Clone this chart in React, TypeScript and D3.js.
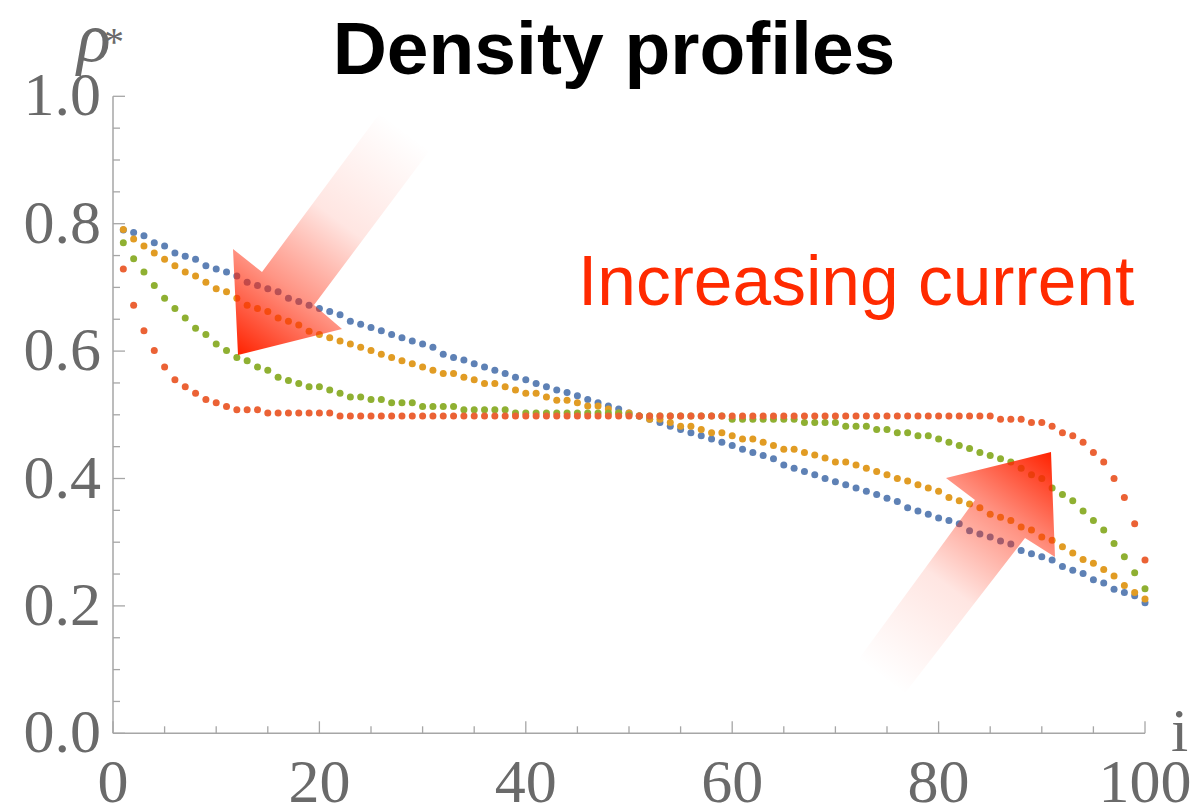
import React from "react";
import * as d3 from "d3";

const W = 1200;
const H = 809;

const seriesColors = ["#5E81B5", "#E19C24", "#8FB032", "#EB6235"];

const blue = [
  0.790, 0.786, 0.781, 0.770, 0.765, 0.754, 0.749, 0.744, 0.734, 0.729,
  0.724, 0.718, 0.708, 0.703, 0.698, 0.693, 0.683, 0.678, 0.672, 0.667,
  0.662, 0.657, 0.647, 0.642, 0.637, 0.632, 0.626, 0.621, 0.616, 0.611,
  0.606, 0.595, 0.590, 0.586, 0.580, 0.575, 0.570, 0.565, 0.559, 0.555,
  0.549, 0.544, 0.539, 0.535, 0.530, 0.524, 0.519, 0.514, 0.509, 0.503,
  0.498, 0.493, 0.488, 0.482, 0.477, 0.472, 0.467, 0.462, 0.457, 0.452,
  0.446, 0.441, 0.436, 0.431, 0.421, 0.416, 0.411, 0.406, 0.400, 0.395,
  0.390, 0.385, 0.380, 0.375, 0.369, 0.364, 0.354, 0.349, 0.344, 0.338,
  0.334, 0.329, 0.318, 0.313, 0.308, 0.302, 0.297, 0.287, 0.282, 0.277,
  0.272, 0.262, 0.256, 0.251, 0.241, 0.236, 0.226, 0.221, 0.216, 0.205,
];

const orange = [
  0.791, 0.776, 0.765, 0.754, 0.744, 0.734, 0.724, 0.718, 0.708, 0.698,
  0.693, 0.683, 0.672, 0.667, 0.662, 0.652, 0.647, 0.641, 0.631, 0.626,
  0.621, 0.616, 0.611, 0.606, 0.601, 0.595, 0.590, 0.585, 0.580, 0.575,
  0.570, 0.565, 0.565, 0.559, 0.555, 0.549, 0.549, 0.544, 0.539, 0.534,
  0.534, 0.528, 0.523, 0.523, 0.519, 0.514, 0.514, 0.509, 0.503, 0.503,
  0.498, 0.493, 0.493, 0.488, 0.482, 0.482, 0.477, 0.472, 0.472, 0.467,
  0.462, 0.462, 0.457, 0.452, 0.446, 0.446, 0.441, 0.437, 0.432, 0.426,
  0.426, 0.421, 0.416, 0.411, 0.406, 0.400, 0.396, 0.390, 0.385, 0.380,
  0.370, 0.365, 0.360, 0.354, 0.344, 0.339, 0.334, 0.324, 0.319, 0.308,
  0.303, 0.293, 0.283, 0.273, 0.267, 0.257, 0.247, 0.232, 0.221, 0.211,
];

const green = [
  0.770, 0.745, 0.724, 0.703, 0.683, 0.667, 0.652, 0.636, 0.626, 0.611,
  0.601, 0.590, 0.585, 0.575, 0.570, 0.559, 0.554, 0.549, 0.544, 0.544,
  0.539, 0.534, 0.528, 0.528, 0.524, 0.524, 0.519, 0.519, 0.519, 0.513,
  0.513, 0.513, 0.513, 0.508, 0.508, 0.508, 0.508, 0.508, 0.503, 0.503,
  0.503, 0.503, 0.503, 0.503, 0.503, 0.503, 0.503, 0.503, 0.503, 0.500,
  0.498, 0.498, 0.498, 0.498, 0.498, 0.498, 0.498, 0.498, 0.498, 0.493,
  0.493, 0.493, 0.493, 0.493, 0.493, 0.493, 0.488, 0.488, 0.488, 0.488,
  0.482, 0.482, 0.482, 0.477, 0.477, 0.472, 0.472, 0.467, 0.467, 0.462,
  0.457, 0.452, 0.447, 0.441, 0.436, 0.431, 0.426, 0.416, 0.406, 0.400,
  0.385, 0.375, 0.365, 0.349, 0.334, 0.319, 0.298, 0.277, 0.252, 0.227,
];

const red = [
  0.729, 0.672, 0.632, 0.601, 0.575, 0.555, 0.544, 0.534, 0.524, 0.519,
  0.513, 0.508, 0.508, 0.508, 0.503, 0.503, 0.503, 0.503, 0.503, 0.503,
  0.503, 0.498, 0.498, 0.498, 0.498, 0.498, 0.498, 0.498, 0.498, 0.498,
  0.498, 0.498, 0.498, 0.498, 0.498, 0.498, 0.498, 0.498, 0.498, 0.498,
  0.498, 0.498, 0.498, 0.498, 0.498, 0.498, 0.498, 0.498, 0.498, 0.498,
  0.498, 0.498, 0.498, 0.498, 0.498, 0.498, 0.498, 0.498, 0.498, 0.498,
  0.498, 0.498, 0.498, 0.498, 0.498, 0.498, 0.498, 0.498, 0.498, 0.498,
  0.498, 0.498, 0.498, 0.498, 0.498, 0.498, 0.498, 0.498, 0.498, 0.498,
  0.498, 0.498, 0.498, 0.498, 0.498, 0.493, 0.493, 0.493, 0.488, 0.488,
  0.482, 0.472, 0.467, 0.457, 0.441, 0.426, 0.400, 0.370, 0.329, 0.272,
];

const series = [blue, orange, green, red];

const xMajorTicks = [0, 20, 40, 60, 80, 100];
const yMajorTicks = [0, 0.2, 0.4, 0.6, 0.8, 1.0];
const titleText = "Density profiles";
const annotationText = "Increasing current";

// annotation arrows in pixel space: [tail-left, tail-right, shaft-right, head-right, tip, head-left, shaft-left]
const arrowDown = [
  [380, 113], [430, 150], [314, 305], [342, 329], [238, 355], [233, 249], [262, 272],
];
const arrowUp = [
  [858, 660], [905, 693], [1025, 538], [1055, 557], [1051, 452], [946, 478], [975, 500],
];

export default function App() {
  const x = d3.scaleLinear().domain([0, 100]).range([113, 1145]);
  const y = d3.scaleLinear().domain([0, 1]).range([733.3, 96.3]);
  const axisColor = "#a6a6a6";
  const labelColor = "#6a6a6a";
  const serif = "'Liberation Serif', 'Times New Roman', serif";
  const sans = "'Liberation Sans', Arial, Helvetica, sans-serif";

  const xMinor = d3.range(0, 101, 5);
  const yMinor = d3.range(0, 21).map((k) => k * 0.05);

  const arrowPath = (pts: number[][]) => "M" + pts.map((p) => p.join(",")).join("L") + "Z";

  return (
    <svg width={W} height={H} style={{ position: "absolute", left: 0, top: 0, background: "#fff" }}>
      <defs>
        <linearGradient id="gDown" gradientUnits="userSpaceOnUse" x1={405} y1={131} x2={238} y2={355}>
          <stop offset="0" stopColor="#ff2a0a" stopOpacity={0} />
          <stop offset="0.4" stopColor="#ff2a0a" stopOpacity={0.12} />
          <stop offset="0.7" stopColor="#ff2a0a" stopOpacity={0.5} />
          <stop offset="1" stopColor="#ff2200" stopOpacity={1} />
        </linearGradient>
        <linearGradient id="gUp" gradientUnits="userSpaceOnUse" x1={881} y1={677} x2={1051} y2={452}>
          <stop offset="0" stopColor="#ff2a0a" stopOpacity={0} />
          <stop offset="0.4" stopColor="#ff2a0a" stopOpacity={0.12} />
          <stop offset="0.7" stopColor="#ff2a0a" stopOpacity={0.5} />
          <stop offset="1" stopColor="#ff2200" stopOpacity={1} />
        </linearGradient>
      </defs>

      {/* axes */}
      <line x1={x(0)} x2={x(100)} y1={y(0)} y2={y(0)} stroke={axisColor} strokeWidth={1.5} />
      <line x1={x(0)} x2={x(0)} y1={y(0)} y2={y(1)} stroke={axisColor} strokeWidth={1.5} />
      {xMinor.map((v) => {
        const major = v % 20 === 0;
        return (
          <line key={"xt" + v} x1={x(v)} x2={x(v)} y1={y(0)} y2={y(0) - (major ? 12 : 7)}
            stroke={axisColor} strokeWidth={1.3} />
        );
      })}
      {yMinor.map((v, k) => {
        const major = k % 4 === 0;
        return (
          <line key={"yt" + k} x1={x(0)} x2={x(0) + (major ? 12 : 7)} y1={y(v)} y2={y(v)}
            stroke={axisColor} strokeWidth={1.3} />
        );
      })}
      {yMajorTicks.map((v) => (
        <text key={"yl" + v} x={101} y={y(v) + 19} textAnchor="end" fontFamily={serif}
          fontSize={62} fill={labelColor}>{v.toFixed(1)}</text>
      ))}
      {xMajorTicks.map((v) => (
        <text key={"xl" + v} x={x(v)} y={y(0) + 69} textAnchor="middle" fontFamily={serif}
          fontSize={62} fill={labelColor}>{v}</text>
      ))}
      <text x={77} y={61} fontFamily={serif} fontStyle="italic" fontSize={70} fill={labelColor}>ρ</text>
      <text x={104} y={55} fontFamily={serif} fontSize={40} fill={labelColor}>*</text>
      <text x={1171} y={751} fontFamily={serif} fontSize={62} fill={labelColor}>i</text>

      {/* data */}
      {series.map((s, si) => (
        <g key={"s" + si} fill={seriesColors[si]}>
          {s.map((v, i) => (
            <circle key={i} cx={x(i + 1)} cy={y(v)} r={3.5} />
          ))}
        </g>
      ))}

      {/* annotations */}
      <path d={arrowPath(arrowDown)} fill="url(#gDown)" />
      <path d={arrowPath(arrowUp)} fill="url(#gUp)" />
      <text x={578} y={305} fontFamily={sans} fontSize={69.5} fill="#ff2a00">{annotationText}</text>
      <text x={614} y={74} textAnchor="middle" fontFamily={sans} fontWeight="bold" fontSize={75} fill="#000">{titleText}</text>
    </svg>
  );
}
